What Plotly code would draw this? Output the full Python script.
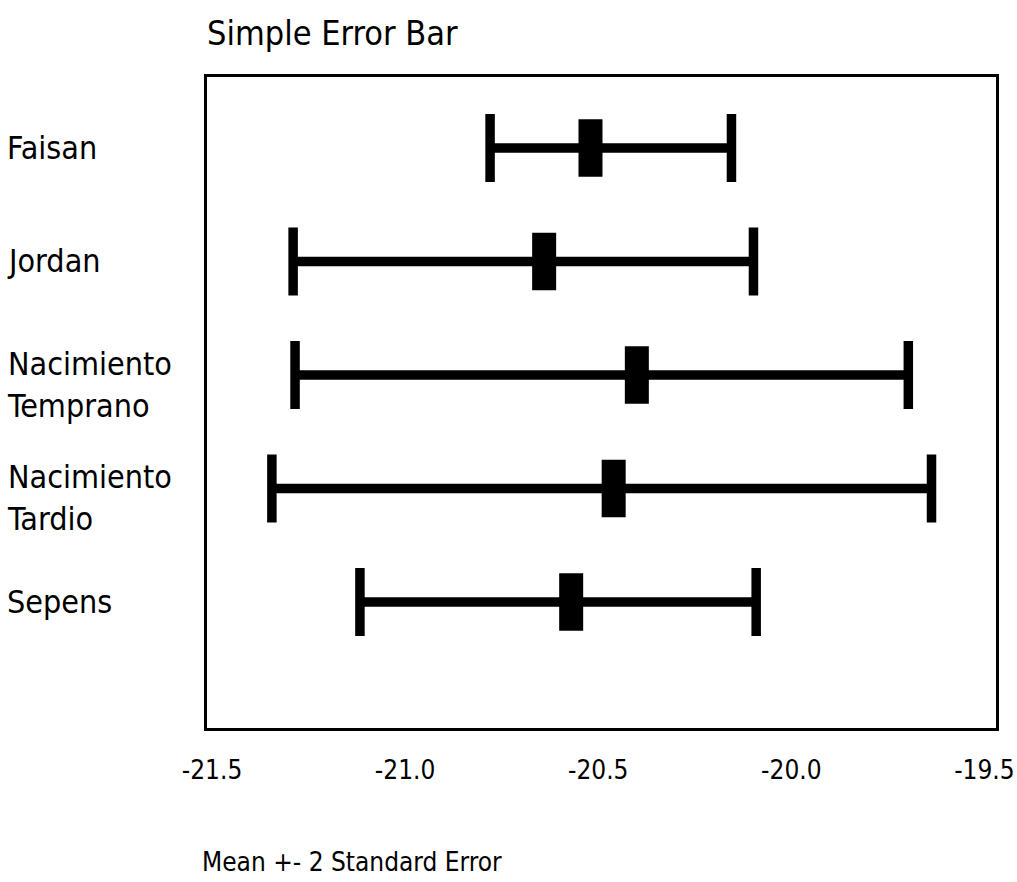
import plotly.graph_objects as go

categories = ["Faisan", "Jordan", "Nacimiento\nTemprano", "Nacimiento\nTardio", "Sepens"]
means = [-20.52, -20.64, -20.40, -20.46, -20.57]
lows = [-20.78, -21.29, -21.285, -21.345, -21.117]
highs = [-20.155, -20.098, -19.697, -19.637, -20.091]
tick_vals = [-21.5, -21.0, -20.5, -20.0, -19.5]
tick_text = ["-21.5", "-21.0", "-20.5", "-20.0", "-19.5"]

FONT = "Liberation Sans Narrow, Arial Narrow, DejaVu Sans Condensed, sans-serif"

W, H = 1017, 882

ypos = list(range(len(categories)))
err_plus = [h - m for h, m in zip(highs, means)]
err_minus = [m - l for m, l in zip(means, lows)]

fig = go.Figure()
fig.add_trace(go.Scatter(
    x=means, y=ypos, mode="markers",
    marker=dict(symbol="line-ns", size=41, color="black",
                line=dict(width=24, color="black")),
    error_x=dict(type="data", symmetric=False, array=err_plus, arrayminus=err_minus,
                 color="black", thickness=9.5, width=34),
    showlegend=False, hoverinfo="skip",
))

annotations = []
for i, cat in enumerate(categories):
    multi = "\n" in cat
    annotations.append(dict(
        x=-0.2555, xref="paper", y=i, yref="y", xanchor="left", yanchor="middle",
        text=cat.replace("\n", "<br>"), showarrow=False, align="left",
        yshift=-10 if multi else 0,
        font=dict(family=FONT, size=32, color="black"),
    ))
annotations.append(dict(
    x=-0.009, xref="paper", y=-0.206, yref="paper", xanchor="left", yanchor="middle",
    text="Mean +- 2 Standard Error", showarrow=False,
    font=dict(family=FONT, size=26, color="black"),
))

fig.update_layout(
    width=W, height=H,
    margin=dict(l=207, r=21, t=77, b=154, autoexpand=False),
    paper_bgcolor="white", plot_bgcolor="white",
    title=dict(text="Simple Error Bar", x=0, xref="paper", xanchor="left",
               y=1 - 33 / H, yref="container", yanchor="middle",
               font=dict(family=FONT, size=34, color="black")),
    xaxis=dict(range=[-21.513, -19.47], tickvals=tick_vals, ticktext=tick_text,
               showgrid=False, zeroline=False, showline=True, mirror=True,
               linecolor="black", linewidth=2.5, ticks="", automargin=False,
               ticklabelstandoff=17, ticklabeloverflow="allow",
               tickfont=dict(family=FONT, size=26, color="black")),
    yaxis=dict(range=[5.11, -0.625], showticklabels=False, showgrid=False,
               zeroline=False, showline=True, mirror=True, linecolor="black",
               linewidth=2.5, ticks="", automargin=False),
    annotations=annotations,
)

fig.write_html(
    "out.html",
    config={"displayModeBar": False},
    post_script=(
        "document.body.style.margin='0';"
        "document.body.style.overflow='hidden';"
        "document.documentElement.style.overflow='hidden';"
    ),
)
